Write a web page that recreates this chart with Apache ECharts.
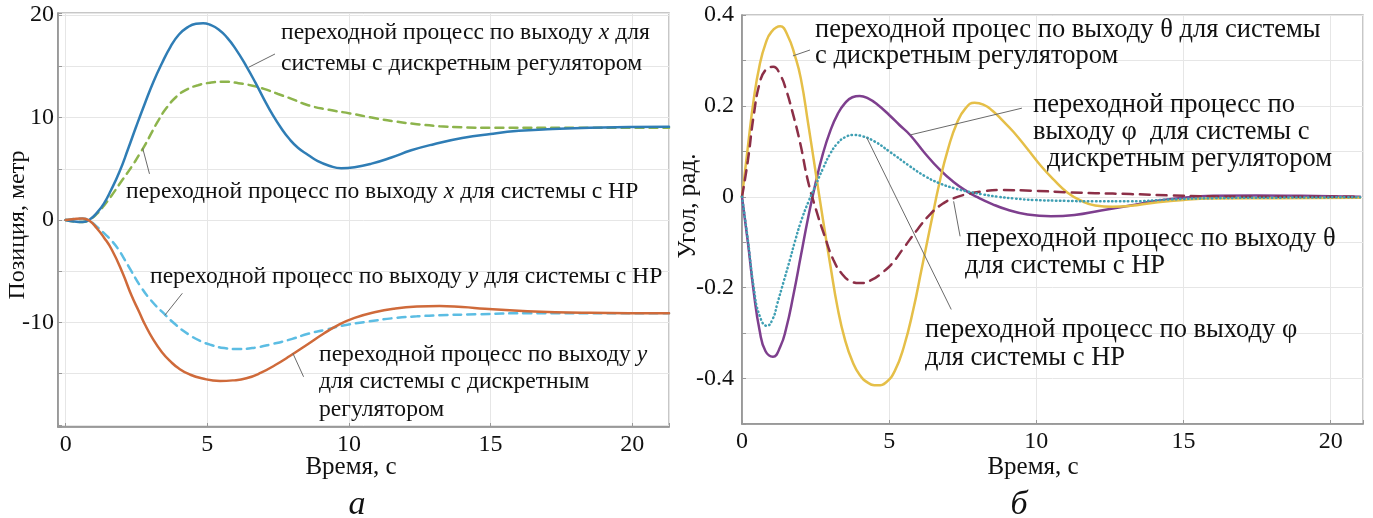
<!DOCTYPE html>
<html>
<head>
<meta charset="utf-8">
<script src="https://cdn.jsdelivr.net/npm/echarts@6/dist/echarts.min.js"></script>
<style>
html,body{margin:0;padding:0;background:#fff;}
#c{width:1373px;height:518px;}
</style>
</head>
<body>
<div id="c"></div>
<script>
// ---------- DATA ----------
// left panel (а): position, m vs time, s
const xDiscrete = [[0,0],[0.3,-0.15],[0.6,-0.2],[0.85,0.05],[1.1,0.7],[1.35,1.6],[1.6,2.9],[1.9,4.7],[2.2,6.9],[2.5,9.2],[2.8,11.4],[3.1,13.5],[3.4,15.3],[3.7,16.9],[4.0,18.1],[4.3,18.8],[4.6,19.15],[4.85,19.2],[5.1,19.05],[5.4,18.6],[5.7,17.8],[6.0,16.7],[6.38,15.0],[6.7,13.4],[7.0,11.8],[7.3,10.3],[7.6,9.0],[7.9,7.9],[8.2,7.05],[8.56,6.35],[8.9,5.75],[9.3,5.3],[9.73,5.05],[10.2,5.15],[10.8,5.5],[11.5,6.1],[12.2,6.8],[13.0,7.4],[14.0,8.0],[15.0,8.4],[16.0,8.7],[17.0,8.85],[18.5,9.0],[21.3,9.1]];
const xNR = [[0,0],[0.3,-0.15],[0.6,-0.2],[0.85,0.05],[1.1,0.6],[1.35,1.4],[1.6,2.3],[2.0,3.9],[2.33,5.2],[2.6,6.4],[2.8,7.3],[3.05,8.6],[3.27,9.7],[3.55,10.9],[3.9,12.0],[4.25,12.7],[4.67,13.15],[5.1,13.4],[5.6,13.5],[6.1,13.35],[6.6,13.1],[7.0,12.8],[7.5,12.3],[8.0,11.8],[8.56,11.2],[9.3,10.75],[10.04,10.4],[10.8,10.0],[11.67,9.6],[12.4,9.35],[13.2,9.15],[14,9.05],[15,9.0],[18,9.0],[21.3,9.0]];
const yDiscrete = [[0,0],[0.3,0.1],[0.6,0.15],[0.85,-0.1],[1.1,-0.8],[1.35,-1.7],[1.63,-2.9],[2.0,-5.1],[2.33,-7.4],[2.6,-9.0],[2.8,-10.2],[3.1,-11.7],[3.4,-12.9],[3.7,-13.8],[4.0,-14.5],[4.36,-15.05],[4.8,-15.45],[5.45,-15.7],[5.9,-15.65],[6.38,-15.45],[6.9,-14.9],[7.4,-14.15],[7.9,-13.3],[8.56,-12.1],[9.1,-11.1],[9.65,-10.2],[10.2,-9.55],[10.9,-9.0],[11.6,-8.65],[12.4,-8.45],[13.2,-8.4],[14.0,-8.5],[14.8,-8.65],[16.3,-8.9],[18.5,-9.05],[21.3,-9.1]];
const yNR = [[0,0],[0.3,0.1],[0.6,0.15],[0.85,-0.1],[1.1,-0.65],[1.4,-1.4],[1.65,-2.1],[1.87,-2.9],[2.1,-3.95],[2.3,-4.9],[2.65,-6.5],[3.0,-7.8],[3.42,-9.0],[3.9,-10.25],[4.36,-11.2],[4.75,-11.8],[5.14,-12.2],[5.6,-12.5],[6.07,-12.6],[6.7,-12.45],[7.3,-12.1],[8.0,-11.6],[8.56,-11.1],[9.2,-10.7],[9.8,-10.3],[10.7,-9.9],[11.67,-9.55],[12.4,-9.4],[13.2,-9.3],[14.5,-9.2],[16.3,-9.1],[21.3,-9.1]];

// right panel (б): angle, rad vs time, s
const thetaDiscrete = [[0,0],[0.2,0.11],[0.4,0.215],[0.6,0.29],[0.8,0.337],[1.0,0.363],[1.3,0.375],[1.55,0.355],[1.8,0.31],[2.0,0.26],[2.25,0.16],[2.5,0.055],[2.75,-0.05],[3.0,-0.15],[3.25,-0.245],[3.5,-0.315],[3.75,-0.362],[4.0,-0.392],[4.3,-0.41],[4.6,-0.415],[4.9,-0.408],[5.2,-0.382],[5.5,-0.33],[5.82,-0.248],[6.1,-0.16],[6.4,-0.065],[6.73,0.037],[7.0,0.105],[7.3,0.162],[7.6,0.195],[7.9,0.207],[8.2,0.203],[8.5,0.19],[8.85,0.168],[9.22,0.143],[9.7,0.105],[10.13,0.07],[10.6,0.037],[11.04,0.01],[11.5,-0.008],[12.0,-0.019],[12.6,-0.022],[13.2,-0.02],[14,-0.013],[15,-0.007],[16,-0.004],[18,-0.003],[21,-0.002]];
const phiDiscrete = [[0,0],[0.2,-0.1],[0.4,-0.21],[0.6,-0.295],[0.8,-0.34],[1.05,-0.352],[1.3,-0.33],[1.5,-0.29],[1.75,-0.215],[2.0,-0.13],[2.25,-0.045],[2.5,0.03],[2.75,0.095],[3.0,0.145],[3.25,0.182],[3.5,0.206],[3.75,0.219],[4.0,0.222],[4.3,0.216],[4.6,0.203],[5.0,0.18],[5.35,0.158],[5.71,0.136],[6.2,0.097],[6.73,0.059],[7.2,0.032],[7.64,0.012],[8.0,-0.001],[8.5,-0.016],[9.0,-0.028],[9.7,-0.039],[10.5,-0.043],[11.3,-0.04],[12.2,-0.03],[13.2,-0.019],[14,-0.01],[15,-0.002],[16,0.002],[17.5,0.003],[19,0.002],[21,0.0]];
const thetaNR = [[0,0],[0.2,0.08],[0.4,0.18],[0.6,0.25],[0.8,0.279],[1.06,0.286],[1.3,0.268],[1.5,0.235],[1.7,0.19],[1.97,0.12],[2.24,0.035],[2.5,-0.025],[2.8,-0.085],[3.1,-0.138],[3.4,-0.17],[3.7,-0.186],[4.0,-0.19],[4.4,-0.183],[4.8,-0.165],[5.1,-0.147],[5.5,-0.112],[5.95,-0.073],[6.4,-0.038],[6.85,-0.014],[7.2,-0.003],[7.6,0.005],[8.2,0.012],[8.8,0.0147],[10,0.013],[11.04,0.01],[12,0.008],[13.2,0.006],[14.5,0.003],[16,0.001],[18,0.0],[21,0.0]];
const phiNR = [[0,0],[0.2,-0.095],[0.4,-0.2],[0.6,-0.262],[0.85,-0.284],[1.05,-0.268],[1.2,-0.235],[1.4,-0.19],[1.63,-0.138],[1.8,-0.098],[2.0,-0.055],[2.25,-0.012],[2.5,0.025],[2.75,0.062],[3.0,0.095],[3.25,0.118],[3.5,0.131],[3.79,0.136],[4.1,0.133],[4.5,0.122],[5.0,0.1],[5.71,0.067],[6.2,0.046],[6.7,0.03],[7.2,0.019],[7.64,0.012],[8.2,0.005],[8.7,0.0],[9.3,-0.004],[9.9,-0.007],[11,-0.009],[12,-0.01],[13.2,-0.01],[14.5,-0.006],[16,-0.003],[18,-0.002],[21,-0.001]];

// leader lines (data coordinates) for annotations
const leadersLeft = [
  [[7.39,16.2],[6.46,14.9]],
  [[2.96,4.5],[2.72,7.0]],
  [[4.12,-7.15],[3.5,-9.3]],
  [[8.4,-15.3],[8.02,-13.0]]
];
const leadersRight = [
  [[2.31,0.323],[1.73,0.31]],
  [[9.51,0.195],[5.71,0.136]],
  [[7.19,-0.01],[7.41,-0.087]],
  [[4.24,0.13],[7.11,-0.248]]
];

// axis labels / tick labels
const xTitle = 'Время, с';
const yTitleLeft = 'Позиция, метр';
const yTitleRight = 'Угол, рад.';
const panelLeft = 'а';
const panelRight = 'б';
const yTicksLeft = [20, 10, 0, -10];
const yTicksRight = [0.4, 0.2, 0, -0.2, -0.4];

// ---------- CHART ----------
const FONT = 'Liberation Serif';
const chart = echarts.init(document.getElementById('c'), null, {renderer:'canvas'});

function lineSeries(data, xi, color, type, width, z){
  return {type:'line', xAxisIndex:xi, yAxisIndex:xi, data:data, showSymbol:false, symbol:'none',
    smooth:0.5, lineStyle:{color:color, width:width, type:type, cap:'round'}, z:z, silent:true, animation:false};
}
function leaderSeries(pairs, xi){
  return pairs.map(p => ({type:'line', xAxisIndex:xi, yAxisIndex:xi, data:p, showSymbol:false, symbol:'none',
    lineStyle:{color:'#6a6a6a', width:1}, z:5, silent:true, animation:false}));
}
function inList(v, list){ return list.some(t => Math.abs(t - v) < 1e-6); }

const axisLabelBase = {fontFamily:FONT, fontSize:24, color:'#111'};
function xAxis(gi, min, max, split){
  return {type:'value', gridIndex:gi, min:min, max:max, splitNumber:split,
    axisLine:{show:true, onZero:false, lineStyle:{color:'#8a8a8a', width:1.5}},
    axisTick:{show:true, inside:true, length:4, lineStyle:{color:'#999'}},
    splitLine:{show:true, lineStyle:{color:'#e6e6e6', width:1}},
    axisLabel:Object.assign({}, axisLabelBase, {margin:6, showMinLabel:true, showMaxLabel:true,
      formatter:v => (Math.abs(v/5 - Math.round(v/5))<1e-6) ? String(Math.round(v)) : ''})};
}
function yAxis(gi, extra, labels, fmt, margin){
  return Object.assign({type:'value', gridIndex:gi,
    axisLine:{show:true, onZero:false, lineStyle:{color:'#8a8a8a', width:1.5}},
    axisTick:{show:true, inside:true, length:4, lineStyle:{color:'#999'}},
    splitLine:{show:true, lineStyle:{color:'#e6e6e6', width:1}},
    axisLabel:Object.assign({}, axisLabelBase, {margin:margin,
      formatter:v => inList(v, labels) ? fmt(v) : ''})}, extra);
}

const annLeft = [
  {x:281, y:33, t:'переходной процесс по выходу {i|x} для'},
  {x:281, y:64, t:'системы с дискретным регулятором'},
  {x:126, y:192, t:'переходной процесс по выходу {i|x} для системы с НР'},
  {x:150, y:277, t:'переходной процесс по выходу {i|y} для системы с НР'},
  {x:319, y:355, t:'переходной процесс по выходу {i|y}'},
  {x:319, y:382, t:'для системы с дискретным'},
  {x:319, y:410, t:'регулятором'}
];
const annRight = [
  {x:815, y:30, t:'переходной процес по выходу θ для системы'},
  {x:815, y:56, t:'с дискретным регулятором'},
  {x:1033, y:105, t:'переходной процесс по'},
  {x:1033, y:132, t:'выходу φ  для системы с'},
  {x:1047, y:159, t:'дискретным регулятором'},
  {x:966, y:239, t:'переходной процесс по выходу θ'},
  {x:965, y:266, t:'для системы с НР'},
  {x:925, y:330, t:'переходной процесс по выходу φ'},
  {x:925, y:358, t:'для системы с НР'}
];
function annText(a, size){
  return {type:'text', x:a.x, y:a.y, z:20, silent:true,
    style:{text:a.t, fontFamily:FONT, fontSize:size, fill:'#111', verticalAlign:'middle', align:'left',
      rich:{i:{fontFamily:FONT, fontSize:size, fontStyle:'italic', fill:'#111'}}}};
}
const graphics = annLeft.map(a => annText(a, 23.6)).concat(annRight.map(a => annText(a, 26.5)));
graphics.push(
  {type:'text', x:351, y:467, style:{text:xTitle, fontFamily:FONT, fontSize:25, fill:'#111', align:'center', verticalAlign:'middle'}},
  {type:'text', x:1033, y:467, style:{text:xTitle, fontFamily:FONT, fontSize:25, fill:'#111', align:'center', verticalAlign:'middle'}},
  {type:'text', x:357, y:505, style:{text:panelLeft, fontFamily:FONT, fontSize:34, fontStyle:'italic', fill:'#111', align:'center', verticalAlign:'middle'}},
  {type:'text', x:1019, y:505, style:{text:panelRight, fontFamily:FONT, fontSize:34, fontStyle:'italic', fill:'#111', align:'center', verticalAlign:'middle'}},
  {type:'text', x:18, y:225, rotation:Math.PI/2, style:{text:yTitleLeft, fontFamily:FONT, fontSize:24, fill:'#111', align:'center', verticalAlign:'middle'}},
  {type:'text', x:688, y:206, rotation:Math.PI/2, style:{text:yTitleRight, fontFamily:FONT, fontSize:25, fill:'#111', align:'center', verticalAlign:'middle'}}
);

const option = {
  backgroundColor:'#ffffff',
  animation:false,
  grid:[
    {left:58, right:704, top:13, bottom:91, show:true, borderColor:'#b5b5b5', borderWidth:1.5, backgroundColor:'transparent'},
    {left:742, right:10, top:15, bottom:94, show:true, borderColor:'#b5b5b5', borderWidth:1.5, backgroundColor:'transparent'}
  ],
  xAxis:[ xAxis(0, -0.27, 21.3, 4), xAxis(1, 0, 21.1, 4) ],
  yAxis:[
    yAxis(0, {min:-20.2, max:20.2, splitNumber:8}, yTicksLeft, v => String(Math.round(v)), 4),
    yAxis(1, {min:-0.5, max:0.4, interval:0.1}, yTicksRight, v => Math.abs(v)<1e-6 ? '0' : v.toFixed(1), 8)
  ],
  series:[
    lineSeries(xNR, 0, '#8db44c', [8,6], 2.5, 2),
    lineSeries(xDiscrete, 0, '#2f7db5', 'solid', 2.5, 3),
    lineSeries(yNR, 0, '#5cbde3', [8,6], 2.5, 2),
    lineSeries(yDiscrete, 0, '#cf6a3a', 'solid', 2.5, 3),
    lineSeries(thetaNR, 1, '#8c2f47', [10,7], 2.5, 3),
    lineSeries(phiNR, 1, '#3f9fb3', [0.5,3.5], 2.5, 3),
    lineSeries(phiDiscrete, 1, '#7e3f8e', 'solid', 2.5, 2),
    lineSeries(thetaDiscrete, 1, '#e5bf48', 'solid', 2.5, 2)
  ].concat(leaderSeries(leadersLeft, 0), leaderSeries(leadersRight, 1)),
  graphic:graphics
};
chart.setOption(option);
</script>
</body>
</html>
